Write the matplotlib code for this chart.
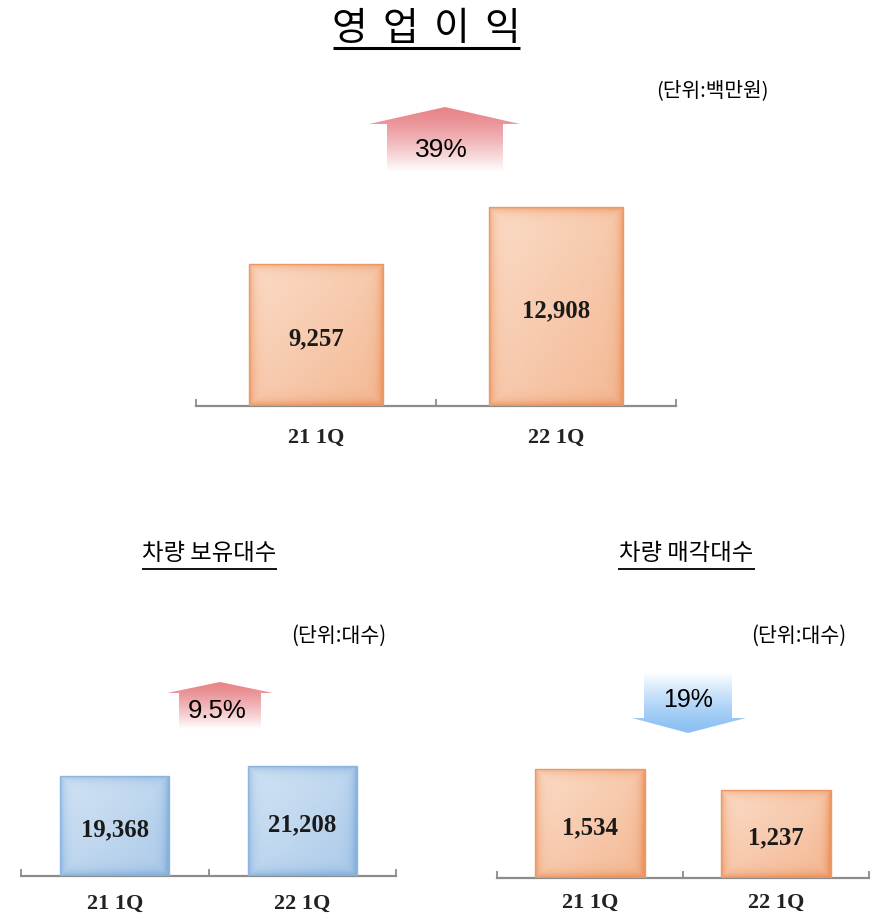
import numpy as np
import matplotlib
matplotlib.use("Agg")
import matplotlib.pyplot as plt
from matplotlib.patches import Polygon
from matplotlib.colors import to_rgb

# ---------------- data ----------------
categories = ["21 1Q", "22 1Q"]
op_profit = [9257, 12908]          # 영업이익 (백만원)
fleet_owned = [19368, 21208]       # 차량 보유대수
fleet_sold = [1534, 1237]          # 차량 매각대수
pct_profit = "39%"
pct_owned = "9.5%"
pct_sold = "19%"
main_title = "영 업 이 익"

W, H = 877, 917
DPI = 100
fig = plt.figure(figsize=(W / DPI, H / DPI), dpi=DPI)
fig.patch.set_facecolor("white")

KR = ["Noto Sans CJK KR", "DejaVu Sans"]
SERIF = ["Liberation Serif", "DejaVu Serif"]
SANS = ["Liberation Sans", "DejaVu Sans"]


def px_axes(left, right, baseline, height):
    """axes rect from pixel coords (y from top)"""
    return [left / W, (H - baseline) / H, (right - left) / W, height / H]


def gradient_bar(ax, bar, light, dark, edge):
    x0, y0 = bar.get_x(), bar.get_y()
    w, h = bar.get_width(), bar.get_height()
    p0 = ax.transData.transform((x0, y0))
    p1 = ax.transData.transform((x0 + w, y0 + h))
    pw, ph = max(int(abs(p1[0] - p0[0])), 2), max(int(abs(p1[1] - p0[1])), 2)
    u = np.linspace(0, 1, pw)[None, :]
    v = np.linspace(0, 1, ph)[:, None]  # 0 = top row
    diag = 0.5 * ((u + v) / 2.0)
    dx = np.minimum(u * pw, (1 - u) * pw)
    dy = np.minimum(v * ph, (1 - v) * ph)
    d = np.minimum(dx, dy)
    edge_t = np.exp(-d / 4.5) * 0.7
    a = np.clip(diag + edge_t, 0, 1)
    L = np.array(to_rgb(light))
    D = np.array(to_rgb(dark))
    img = L[None, None, :] * (1 - a[..., None]) + D[None, None, :] * a[..., None]
    im = ax.imshow(img, extent=(x0, x0 + w, y0, y0 + h), origin="upper",
                   aspect="auto", zorder=2, interpolation="bilinear")
    im.set_clip_path(bar)
    bar.set_facecolor("none")
    bar.set_edgecolor(edge)
    bar.set_linewidth(1.0)
    bar.set_zorder(3)


def bar_panel(rect, values, ymax, light, dark, edge, width, pad):
    ax = fig.add_axes(rect)
    x = np.arange(len(values))
    bars = ax.bar(x, values, width=width, zorder=3)
    ax.set_xlim(-0.5, len(values) - 0.5)
    ax.set_ylim(0, ymax)
    for b in bars:
        gradient_bar(ax, b, light, dark, edge)
    ax.set_xlim(-0.5, len(values) - 0.5)
    ax.set_ylim(0, ymax)
    for s in ["top", "right", "left"]:
        ax.spines[s].set_visible(False)
    ax.spines["bottom"].set_color("#8c8c8c")
    ax.spines["bottom"].set_linewidth(1.6)
    ax.spines["bottom"].set_zorder(1)
    ax.set_yticks([])
    ax.set_xticks(x)
    ax.set_xticklabels(categories, fontfamily=SERIF, fontweight="bold",
                       fontsize=16, color="#222222")
    ax.tick_params(axis="x", which="major", length=0, pad=pad)
    ax.set_xticks(np.arange(-0.5, len(values), 1.0), minor=True)
    ax.tick_params(axis="x", which="minor", direction="in", length=5,
                   width=1.3, color="#8c8c8c")
    ax.set_facecolor("none")
    for xi, v in zip(x, values):
        ax.annotate(f"{v:,}", (xi, v / 2), xytext=(0, -3),
                    textcoords="offset points", ha="center", va="center",
                    fontfamily=SERIF, fontweight="bold", fontsize=17.8,
                    color="#1a1a1a", zorder=5)
    return ax


ORANGE = ("#FBDCC8", "#EC9560", "#E99A68")
BLUE = ("#D3E4F4", "#86B1DE", "#8DB5DF")

bar_panel(px_axes(196, 676, 406, 240), op_profit, 15600, *ORANGE, width=0.56, pad=16)
bar_panel(px_axes(21, 396, 876, 150), fleet_owned, 28950, *BLUE, width=0.58, pad=13)
bar_panel(px_axes(497, 869, 878, 150), fleet_sold, 2108, *ORANGE, width=0.59, pad=11)

# ---------------- overlay in pixel coordinates ----------------
ov = fig.add_axes([0, 0, 1, 1])
ov.set_xlim(0, W)
ov.set_ylim(H, 0)
ov.axis("off")
ov.set_facecolor("none")


def grad_arrow(points, y_color, y_white, color):
    poly = Polygon(points, closed=True, facecolor="none", edgecolor="none")
    ov.add_patch(poly)
    xs = [p[0] for p in points]
    ys = [p[1] for p in points]
    xmin, xmax, ymin, ymax = min(xs), max(xs), min(ys), max(ys)
    n = 200
    yy = np.linspace(ymin, ymax, n)[:, None]
    t = np.clip((yy - y_color) / (y_white - y_color), 0, 1)
    t = t ** 1.3
    C = np.array(to_rgb(color))
    img = C[None, None, :] * (1 - t[..., None]) + np.ones(3)[None, None, :] * t[..., None]
    img = np.repeat(img, 4, axis=1)
    im = ov.imshow(img, extent=(xmin, xmax, ymax, ymin), origin="upper",
                   aspect="auto", interpolation="bilinear", zorder=1)
    im.set_clip_path(poly)


# up arrow (top)
grad_arrow([(445, 107), (520, 124), (503, 124), (503, 172), (387, 172),
            (387, 124), (369, 124)], 110, 172, "#E8878B")
# up arrow (bottom left)
grad_arrow([(220, 682), (273, 693), (261, 693), (261, 729), (179, 729),
            (179, 693), (167, 693)], 684, 729, "#E8878B")
# down arrow (bottom right), white at the top
grad_arrow([(644, 672), (732, 672), (732, 718), (746, 718), (688, 733),
            (632, 718), (644, 718)], 731, 672, "#8CC1F3")

ov.text(441, 150, pct_profit, ha="center", va="center", fontsize=19,
        fontfamily=SANS, color="black", zorder=3)
ov.text(217, 711, pct_owned, ha="center", va="center", fontsize=18.5,
        fontfamily=SANS, color="black", zorder=3)
ov.text(688, 700, pct_sold, ha="center", va="center", fontsize=18,
        fontfamily=SANS, color="black", zorder=3)

# main title: characters spread out as in the original
title_chars = main_title.split(" ")
for cx, ch in zip([349, 400, 452, 502], title_chars):
    ov.text(cx, 29, ch, ha="center", va="center", fontsize=28,
            fontfamily=KR, color="black")
ov.plot([333, 520], [48, 48], color="black", lw=2.2, solid_capstyle="butt")

ov.text(209.5, 554, "차량 보유대수", ha="center", va="center", fontsize=16.8,
        fontfamily=KR, color="black")
ov.plot([142, 277], [568.5, 568.5], color="black", lw=1.3, solid_capstyle="butt")

ov.text(686.5, 554, "차량 매각대수", ha="center", va="center", fontsize=16.8,
        fontfamily=KR, color="black")
ov.plot([618, 755], [569, 569], color="black", lw=1.3, solid_capstyle="butt")

# units
ov.text(712, 91, "(단위:백만원)", ha="center", va="center", fontsize=14.6,
        fontfamily=KR, color="black")
ov.text(338.5, 636, "(단위:대수)", ha="center", va="center", fontsize=14.8,
        fontfamily=KR, color="black")
ov.text(798.5, 636, "(단위:대수)", ha="center", va="center", fontsize=14.8,
        fontfamily=KR, color="black")

fig.savefig("out.png", dpi=DPI, facecolor="white")
